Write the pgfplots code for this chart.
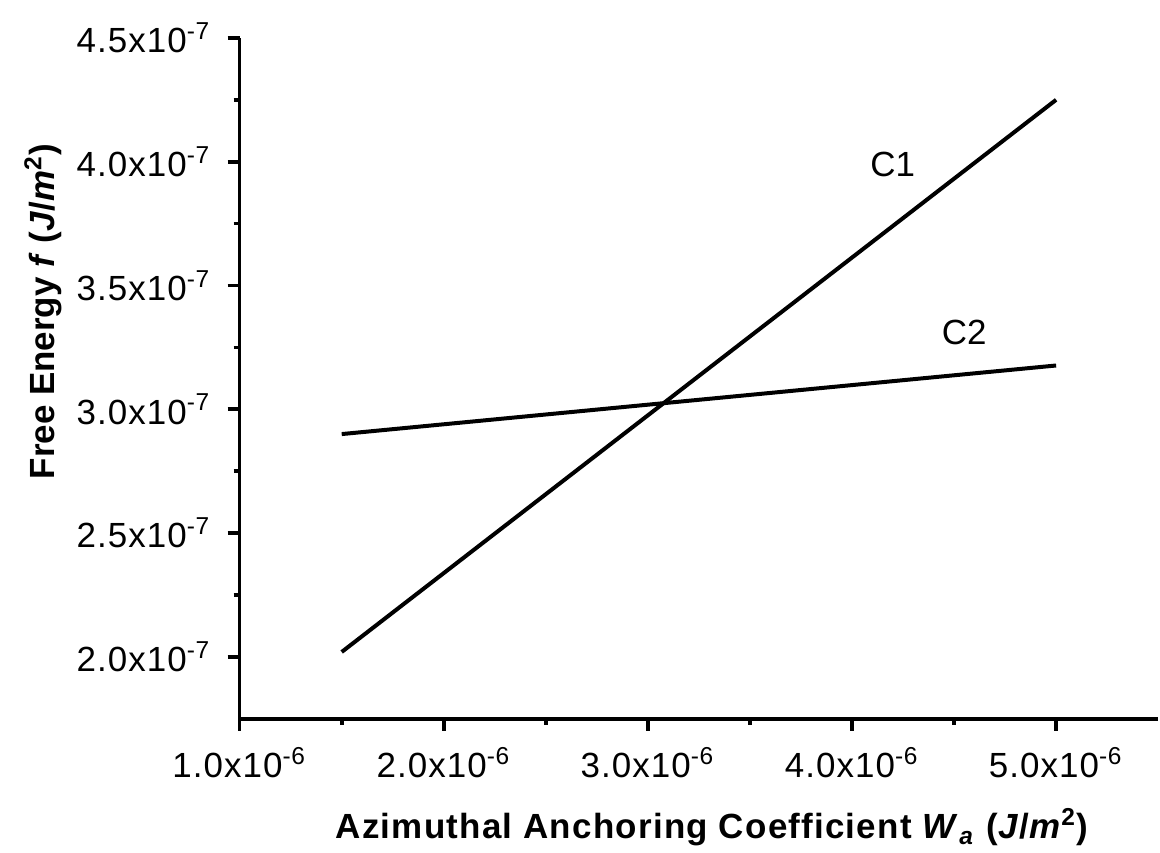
\documentclass[border=0pt]{standalone}
\usepackage{fontspec}
\setmainfont{Liberation Sans}
\usepackage{pgfplots}
\pgfplotsset{compat=1.18}

\begin{document}
\begin{tikzpicture}
\begin{axis}[
    name=ax,
    width=276pt, height=204.6pt,
    scale only axis=true,
    axis lines=left,
    axis line style={line width=1.1pt, -},
    xmin=1.0e-6, xmax=5.5e-6,
    ymin=1.75e-7, ymax=4.5e-7,
    xtick={1.0e-6,2.0e-6,3.0e-6,4.0e-6,5.0e-6},
    xticklabels={1.0x10\textsuperscript{-6},2.0x10\textsuperscript{-6},3.0x10\textsuperscript{-6},4.0x10\textsuperscript{-6},5.0x10\textsuperscript{-6}},
    ytick={2.0e-7,2.5e-7,3.0e-7,3.5e-7,4.0e-7,4.5e-7},
    yticklabels={2.0x10\textsuperscript{-7},2.5x10\textsuperscript{-7},3.0x10\textsuperscript{-7},3.5x10\textsuperscript{-7},4.0x10\textsuperscript{-7},4.5x10\textsuperscript{-7}},
    minor x tick num=1,
    minor y tick num=1,
    tick align=outside,
    major tick length=3.6pt,
    minor tick length=1.8pt,
    every tick/.style={black, line width=1.1pt},
    scaled ticks=false,
    tick label style={font=\fontsize{10.5}{12}\selectfont\addfontfeatures{LetterSpace=3}},
    xticklabel style={yshift=-1.5pt},
    yticklabel style={xshift=-1.5pt},
    xlabel={\textbf{Azimuthal Anchoring Coefficient \textit{W}\textsubscript{\textit{a}} (\textit{J}/\textit{m}\textsuperscript{2})}},
    ylabel={\textbf{Free Energy \textit{f} (\textit{J}/\textit{m}\textsuperscript{2})}},
    xlabel style={font=\fontsize{10.5}{12}\selectfont\addfontfeatures{LetterSpace=3.5},
        at={(rel axis cs:0.515,-0.176)}, anchor=base},
    ylabel style={font=\fontsize{10.5}{12}\selectfont,
        at={(rel axis cs:-0.214,0.598)}, anchor=center},
    clip=false,
]
\addplot[black, line width=1.2pt] coordinates {(1.5e-6,2.02e-7) (5.0e-6,4.25e-7)};
\addplot[black, line width=1.2pt] coordinates {(1.5e-6,2.90e-7) (5.0e-6,3.177e-7)};
\node[font=\fontsize{10.5}{12}\selectfont] at (axis cs:4.20e-6,3.99e-7) {C1};
\node[font=\fontsize{10.5}{12}\selectfont] at (axis cs:4.55e-6,3.31e-7) {C2};
\coordinate (bl) at (rel axis cs:-0.2609,-0.1965);
\coordinate (tr) at (rel axis cs:1.002,1.0557);
\end{axis}
\pgfresetboundingbox
\path[use as bounding box] (bl) rectangle (tr);
\end{tikzpicture}
\end{document}
